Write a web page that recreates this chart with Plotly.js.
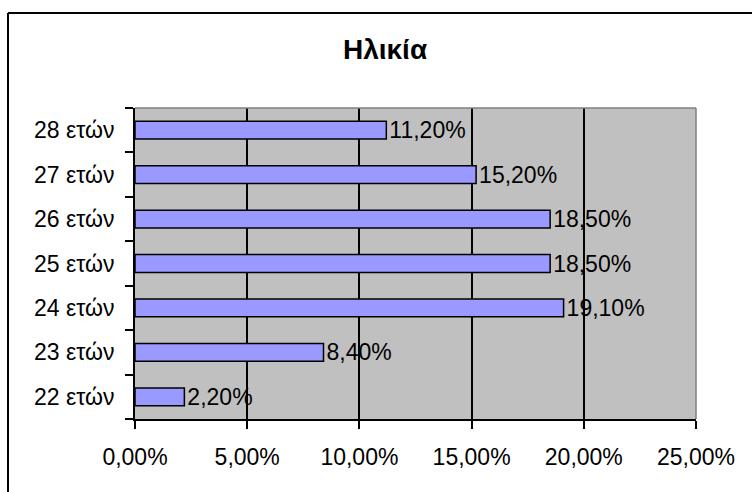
<!DOCTYPE html>
<html>
<head>
<meta charset="utf-8">
<script src="https://cdn.plot.ly/plotly-3.0.1.min.js"></script>
<style>
html,body{margin:0;padding:0;background:#fff;}
#chart{width:752px;height:492px;}
</style>
</head>
<body>
<div id="chart"></div>
<script>
const categories = ["22 ετών", "23 ετών", "24 ετών", "25 ετών", "26 ετών", "27 ετών", "28 ετών"];
const values = [0.022, 0.084, 0.191, 0.185, 0.185, 0.152, 0.112];
const titleText = "Ηλικία";
const xTickValues = [0, 0.05, 0.10, 0.15, 0.20, 0.25];

const font = "Liberation Sans, Arial, sans-serif";

const trace = {
  type: "bar",
  orientation: "h",
  y: categories,
  x: values,
  width: 0.4,
  marker: {color: "#9999FF", line: {color: "#000000", width: 1.5}},
  texttemplate: "%{x:.2%}",
  textposition: "outside",
  constraintext: "none",
  cliponaxis: false,
  textfont: {family: font, size: 23, color: "#000"},
  hoverinfo: "skip"
};

const layout = {
  width: 752,
  height: 492,
  separators: ",.",
  paper_bgcolor: "#ffffff",
  plot_bgcolor: "#C0C0C0",
  margin: {l: 135, r: 56, t: 108, b: 73, pad: 0},
  showlegend: false,
  title: {
    text: "<b>" + titleText + "</b>",
    font: {family: font, size: 28, color: "#000"},
    x: 0.512, xanchor: "center",
    y: 0.9, yanchor: "middle"
  },
  xaxis: {
    range: [0, 0.25],
    tickvals: xTickValues,
    tickformat: ".2%",
    showgrid: true,
    gridcolor: "#000000",
    gridwidth: 2,
    zeroline: false,
    showline: true,
    linecolor: "#000000",
    linewidth: 2,
    ticks: "outside",
    ticklen: 8,
    tickwidth: 2,
    tickcolor: "#000",
    tickfont: {family: font, size: 23, color: "#000"},
    ticklabelstandoff: 8,
    fixedrange: true
  },
  yaxis: {
    type: "category",
    categoryorder: "array",
    categoryarray: categories,
    tickson: "boundaries",
    ticks: "outside",
    ticklen: 8,
    tickwidth: 2,
    tickcolor: "#000",
    showgrid: false,
    showline: true,
    linecolor: "#000000",
    linewidth: 2,
    tickfont: {family: font, size: 23, color: "#000"},
    ticklabelstandoff: 14,
    fixedrange: true
  },
  shapes: [
    {type: "line", xref: "paper", yref: "paper", x0: 0, x1: 1, y0: 1, y1: 1, line: {color: "#808080", width: 1.5}},
    {type: "line", xref: "paper", yref: "paper", x0: 1, x1: 1, y0: 0, y1: 1, line: {color: "#808080", width: 1.5}},
    {type: "line", xref: "paper", yref: "paper", x0: -127/561, x1: -127/561, y0: -1, y1: 1 + 95/311, line: {color: "#000", width: 2}},
    {type: "line", xref: "paper", yref: "paper", x0: -127/561, x1: 1 + 56/561, y0: 1 + 95/311, y1: 1 + 95/311, line: {color: "#000", width: 2}}
  ]
};

Plotly.newPlot("chart", [trace], layout, {displayModeBar: false, staticPlot: true});
</script>
</body>
</html>
